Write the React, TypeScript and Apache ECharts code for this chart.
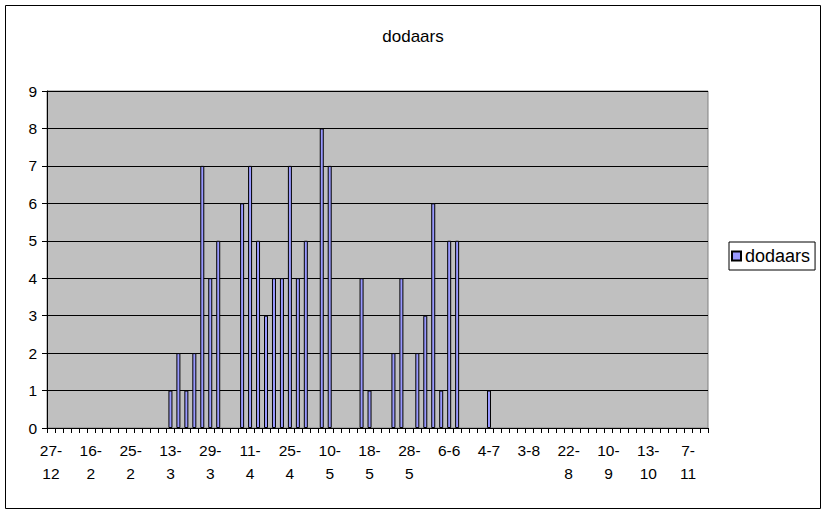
import React, { useEffect, useRef } from "react";
import * as echarts from "echarts";

const categories: string[] = [
  "27-12", "3-1", "12-1", "24-1", "2-2",
  "16-2", "18-2", "20-2", "22-2", "24-2",
  "25-2", "1-3", "4-3", "8-3", "11-3",
  "13-3", "15-3", "18-3", "21-3", "25-3",
  "29-3", "1-4", "3-4", "6-4", "8-4",
  "11-4", "13-4", "16-4", "18-4", "22-4",
  "25-4", "27-4", "30-4", "3-5", "7-5",
  "10-5", "12-5", "14-5", "16-5", "17-5",
  "18-5", "20-5", "22-5", "24-5", "26-5",
  "28-5", "30-5", "1-6", "3-6", "4-6",
  "6-6", "9-6", "14-6", "20-6", "27-6",
  "4-7", "10-7", "15-7", "22-7", "28-7",
  "3-8", "8-8", "12-8", "16-8", "19-8",
  "22-8", "26-8", "30-8", "3-9", "7-9",
  "10-9", "16-9", "23-9", "30-9", "6-10",
  "13-10", "20-10", "25-10", "29-10", "3-11",
  "7-11", "14-11", "21-11",
];

const dodaars: number[] = [
  0, 0, 0, 0, 0,
  0, 0, 0, 0, 0,
  0, 0, 0, 0, 0,
  1, 2, 1, 2, 7,
  4, 5, 0, 0, 6,
  7, 5, 3, 4, 4,
  7, 4, 5, 0, 8,
  7, 0, 0, 0, 4,
  1, 0, 0, 2, 4,
  0, 2, 3, 6, 1,
  5, 5, 0, 0, 0,
  1, 0, 0, 0, 0,
  0, 0, 0, 0, 0,
  0, 0, 0, 0, 0,
  0, 0, 0, 0, 0,
  0, 0, 0, 0, 0,
  0, 0, 0,
];

const yTicks: number[] = [0, 1, 2, 3, 4, 5, 6, 7, 8, 9];

const FONT = "'Liberation Sans', Arial, sans-serif";

export default function App() {
  const ref = useRef<HTMLDivElement>(null);
  useEffect(() => {
    if (!ref.current) return;
    const chart = echarts.init(ref.current, undefined, { renderer: "svg" });
    const plotLeft = 47;
    const plotRight = 708;
    const plotTop = 91;
    const plotBottom = 428;
    chart.setOption({
      animation: false,
      backgroundColor: "#ffffff",
      textStyle: { fontFamily: FONT },
      title: {
        text: "dodaars",
        left: "center",
        top: 23,
        textStyle: { fontSize: 17, fontWeight: "normal", color: "#000", fontFamily: FONT },
      },
      legend: {
        data: ["dodaars"],
        left: 729,
        top: 242,
        orient: "vertical",
        borderColor: "#000",
        borderWidth: 1,
        padding: [5, 5, 5, 2],
        itemWidth: 9,
        itemHeight: 9,
        itemGap: 4,
        icon: "rect",
        textStyle: { fontSize: 18, color: "#000", fontFamily: FONT, padding: [0, 0, 0, -1] },
      },
      graphic: [
        {
          type: "rect",
          shape: { x: 5.5, y: 5.5, width: 815, height: 503 },
          style: { fill: "none", stroke: "#000", lineWidth: 1 },
          silent: true,
          z: 100,
        },
      ],
      grid: {
        left: plotLeft,
        top: plotTop,
        width: plotRight - plotLeft,
        height: plotBottom - plotTop,
        show: true,
        backgroundColor: "#C0C0C0",
        borderColor: "#808080",
        borderWidth: 1,
        containLabel: false,
      },
      xAxis: {
        type: "category",
        data: categories,
        boundaryGap: true,
        axisLine: { show: true, lineStyle: { color: "#000", width: 1 } },
        axisTick: { show: true, interval: 0, length: 5, lineStyle: { color: "#000" } },
        axisLabel: {
          interval: 4,
          color: "#000",
          fontSize: 15.5,
          fontFamily: FONT,
          lineHeight: 23,
          margin: 11,
          formatter: (v: string) => (v.length > 3 ? v.replace("-", "-\n") : v),
        },
        splitLine: { show: false },
      },
      yAxis: {
        type: "value",
        min: yTicks[0],
        max: yTicks[yTicks.length - 1],
        interval: 1,
        axisLine: { show: true, lineStyle: { color: "#000", width: 1 } },
        axisTick: { show: true, length: 5, lineStyle: { color: "#000" } },
        axisLabel: { color: "#000", fontSize: 15.5, fontFamily: FONT, margin: 10 },
        splitLine: { show: true, lineStyle: { color: "#000", width: 1 } },
      },
      series: [
        {
          name: "dodaars",
          type: "bar",
          data: dodaars.map((v) => (v === 0 ? null : v)),
          barWidth: 4,
          itemStyle: { color: "#9999FF", borderColor: "#000", borderWidth: 1 },
        },
      ],
    });
    return () => chart.dispose();
  }, []);
  return (
    <div
      ref={ref}
      style={{ position: "absolute", left: 0, top: 0, width: 826, height: 515 }}
    />
  );
}
